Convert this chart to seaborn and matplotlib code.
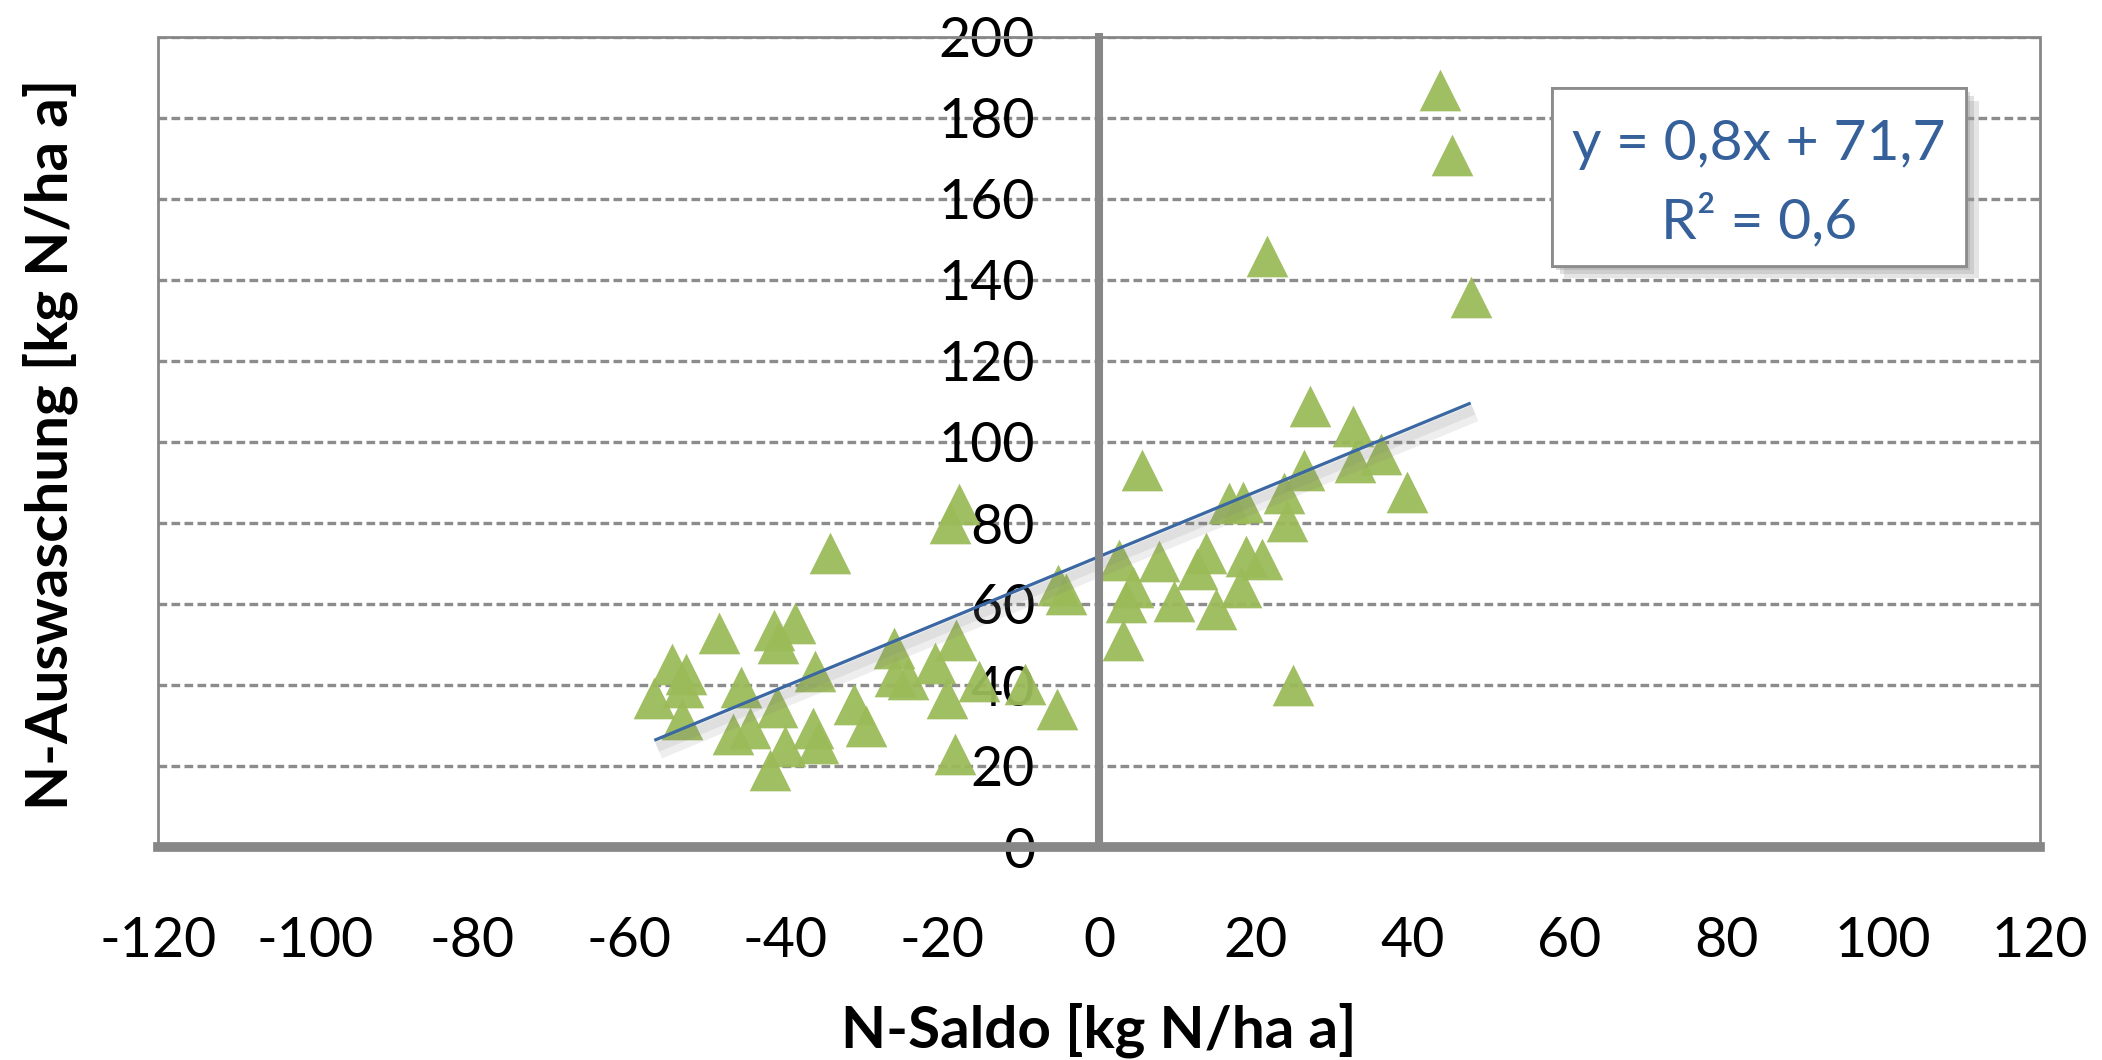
import numpy as np
import pandas as pd
import matplotlib
matplotlib.use("Agg")
import matplotlib.pyplot as plt
import matplotlib.patheffects as pe
from matplotlib.patches import Rectangle
import seaborn as sns

# ---- data ----
n_saldo = [43.5, 45.0, 47.4, 21.4, 26.9, 32.4, 36.0, 32.7, 39.3, 5.5,
           26.1, 23.6, 24.0, 16.6, 18.4, 2.6, 7.6, 13.7, 12.5, 18.8,
           20.8, 4.3, 3.5, 9.6, 18.1, 14.9, 3.0, 24.7,
           -5.2, -4.2, -9.5, -5.3, -17.9, -19.0, -34.3, -48.4, -41.4, -38.8,
           -40.9, -54.5, -52.7, -53.0, -56.7, -53.2, -45.6, -36.2, -46.7, -44.5,
           -41.1, -40.1, -42.0, -36.5, -35.8, -31.2, -29.7, -26.2, -26.0, -24.4,
           -20.9, -18.2, -19.4, -18.3, -15.3]
n_auswaschung = [186.9, 170.9, 135.9, 146.0, 109.0, 104.0, 97.0, 95.0, 87.7, 93.0,
                 93.0, 87.5, 80.4, 85.0, 85.3, 70.9, 70.5, 72.5, 68.7, 71.9,
                 71.2, 64.1, 60.5, 60.7, 64.1, 58.8, 51.0, 39.9,
                 64.7, 62.5, 40.3, 34.1, 84.7, 79.9, 72.7, 52.8, 53.5, 55.4,
                 50.3, 45.3, 42.7, 39.5, 36.9, 31.7, 39.4, 43.5, 28.0, 29.3,
                 34.6, 25.0, 19.1, 29.5, 25.8, 35.2, 30.0, 49.2, 42.2, 41.4,
                 45.5, 51.0, 36.9, 23.0, 40.9]
trend_slope = 0.8
trend_intercept = 71.7
r_squared = 0.6
x_ticks = list(range(-120, 121, 20))
y_ticks = list(range(0, 201, 20))
x_label = "N-Saldo [kg N/ha a]"
y_label = "N-Auswaschung [kg N/ha a]"

eq_text = ("y = " + f"{trend_slope:.1f}x + {trend_intercept:.1f}").replace(".", ",")
r2_text = ("R² = " + f"{r_squared:.1f}").replace(".", ",")

df = pd.DataFrame({"saldo": n_saldo, "ausw": n_auswaschung})

sns.set_style("white")
plt.rcParams["font.family"] = ["Lato", "DejaVu Sans"]
plt.rcParams["axes.unicode_minus"] = False

GREEN = "#9BBB59"
BLUE = "#3B67A3"
GRID = "#8C8C8C"
AXIS = "#878787"

fig = plt.figure(figsize=(21.02, 10.6), dpi=100)
ax = fig.add_axes([158 / 2102, 1 - 847 / 1060, 1882 / 2102, 810 / 1060])

sns.scatterplot(data=df, x="saldo", y="ausw", marker="^", s=900,
                color=GREEN, linewidth=0, alpha=0.95, ax=ax, zorder=1,
                legend=False)

# linear trend line (Excel trendline) over the data range
xs = np.array([df["saldo"].min(), df["saldo"].max()])
ax.plot(xs, trend_slope * xs + trend_intercept, color=BLUE, lw=2.3, zorder=2,
        solid_capstyle="butt",
        path_effects=[pe.SimpleLineShadow(offset=(3, -7), shadow_color="#777777",
                                          alpha=0.12, linewidth=13),
                      pe.SimpleLineShadow(offset=(2, -5), shadow_color="#777777",
                                          alpha=0.12, linewidth=7),
                      pe.Normal()])

ax.set_xlim(x_ticks[0], x_ticks[-1])
ax.set_ylim(y_ticks[0], y_ticks[-1])
ax.set_xticks(x_ticks)
ax.set_yticks(y_ticks)
ax.set_xlabel("")
ax.set_ylabel("")
ax.grid(False)

# horizontal dashed gridlines behind the markers
ax.hlines(y_ticks[1:], x_ticks[0], x_ticks[-1], colors=GRID, linewidth=2.4,
          linestyles=(0, (2.6, 1.3)), zorder=0.5)

# spines
for s in ["top", "right"]:
    ax.spines[s].set_visible(False)
ax.spines["left"].set_position(("data", 0))
ax.spines["left"].set_linewidth(5.8)
ax.spines["left"].set_color(AXIS)
ax.spines["bottom"].set_linewidth(7.0)
ax.spines["bottom"].set_color(AXIS)
ax.add_patch(Rectangle((0, 0), 1, 1, transform=ax.transAxes, fill=False,
                       ec=AXIS, lw=2.0, clip_on=False, zorder=0.6))

ax.tick_params(axis="y", direction="out", length=16, width=5.8, color=AXIS,
               pad=30, labelsize=40, labelcolor="black")
ax.tick_params(axis="x", direction="out", length=13, width=7, color=AXIS,
               pad=37, labelsize=40, labelcolor="black")

# equation box with shadow
box = Rectangle((0.7407, 0.7173), 0.2200, 0.2197, transform=ax.transAxes,
                fc="white", ec="#8C8C8C", lw=2.0, zorder=4,
                path_effects=[pe.withSimplePatchShadow(offset=(9, -9), shadow_rgbFace="#9a9a9a", alpha=0.25),
                              pe.withSimplePatchShadow(offset=(6, -6), shadow_rgbFace="#9a9a9a", alpha=0.3),
                              pe.withSimplePatchShadow(offset=(3, -3), shadow_rgbFace="#9a9a9a", alpha=0.35)])
ax.add_patch(box)
ax.add_patch(Rectangle((0.7407, 0.7173), 0.2200, 0.2197, transform=ax.transAxes,
                       fc="white", ec="#8C8C8C", lw=2.0, zorder=4.1))
ax.text(0.8507, 0.848, eq_text, transform=ax.transAxes, ha="center",
        va="baseline", fontsize=41, color="#35609A", zorder=5)
ax.text(0.8507, 0.7515, r2_text, transform=ax.transAxes, ha="center",
        va="baseline", fontsize=41, color="#35609A", zorder=5)

fig.text(1099 / 2102, 1 - 1030 / 1060, x_label, ha="center", va="center",
         fontsize=42, fontweight="bold", color="black")
fig.text(50 / 2102, 1 - 444 / 1060, y_label, ha="center", va="center",
         rotation=90, fontsize=42, fontweight="bold", color="black")

fig.savefig("out.png", dpi=100)
